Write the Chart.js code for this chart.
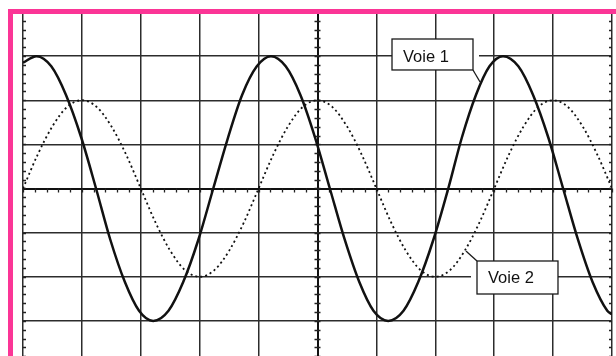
<!DOCTYPE html>
<html>
<head>
<meta charset="utf-8">
<script src="https://cdn.jsdelivr.net/npm/chart.js@4.4.1/dist/chart.umd.min.js"></script>
<style>
  html, body { margin: 0; padding: 0; background: #fff; overflow: hidden; }
  #ecran { position: absolute; left: 0; top: 0; }
  #cadre {
    position: absolute; left: 8px; top: 9px; width: 700px; height: 420px;
    border-top: 5px solid #fb3596; border-left: 5px solid #fb3596;
    pointer-events: none;
  }
</style>
</head>
<body>
<canvas id="ecran" width="616" height="370"></canvas>
<div id="cadre"></div>
<script>
// temps en divisions, tensions en divisions
const voie1T = [0, 0.23, 0.48, 0.73, 0.99, 1.24, 1.48, 1.73, 1.97, 2.21, 2.47, 2.72, 2.98, 3.23,
  3.48, 3.72, 3.97, 4.21, 4.46, 4.71, 4.96, 5.21, 5.46, 5.71, 5.95, 6.2, 6.46, 6.71, 6.97, 7.22,
  7.45, 7.69, 7.92, 8.15, 8.41, 8.66, 8.92, 9.17, 9.42, 9.67, 9.92, 10];
const voie1U = [2.85, 3, 2.77, 2.12, 1.15, 0, -1.15, -2.12, -2.77, -3, -2.77, -2.12, -1.15, 0,
  1.15, 2.12, 2.77, 3, 2.77, 2.12, 1.15, 0, -1.15, -2.12, -2.77, -3, -2.77, -2.12, -1.15, 0,
  1.15, 2.12, 2.77, 3, 2.77, 2.12, 1.15, 0, -1.15, -2.12, -2.77, -2.85];

const voie2T = [0, 0.25, 0.5, 0.75, 1, 1.25, 1.5, 1.75, 2, 2.25, 2.5, 2.75, 3, 3.25, 3.5, 3.75,
  4, 4.25, 4.5, 4.75, 5, 5.25, 5.5, 5.75, 6, 6.25, 6.5, 6.75, 7, 7.25, 7.5, 7.75,
  8, 8.25, 8.5, 8.75, 9, 9.25, 9.5, 9.75, 10];
const voie2U = [0, 0.77, 1.41, 1.85, 2, 1.85, 1.41, 0.77, 0, -0.77, -1.41, -1.85, -2, -1.85, -1.41, -0.77,
  0, 0.77, 1.41, 1.85, 2, 1.85, 1.41, 0.77, 0, -0.77, -1.41, -1.85, -2, -1.85, -1.41, -0.77,
  0, 0.77, 1.41, 1.85, 2, 1.85, 1.41, 0.77, 0];

const nomsVoies = ['Voie 1', 'Voie 2'];

const points = (t, u) => t.map((v, i) => ({ x: v, y: u[i] }));

// petites graduations sur les axes centraux et les bords
const graduations = {
  id: 'graduations',
  beforeDatasetsDraw(chart) {
    const { ctx, scales: { x, y } } = chart;
    const y0 = y.getPixelForValue(0);
    const x0 = x.getPixelForValue(5);
    const xg = x.getPixelForValue(0);
    const xd = x.getPixelForValue(10);
    ctx.save();
    ctx.strokeStyle = '#222';
    ctx.lineWidth = 1.3;
    ctx.beginPath();
    for (let v = 0; v <= 10.001; v += 0.2) {
      const px = Math.round(x.getPixelForValue(v)) + 0.5;
      ctx.moveTo(px, y0);
      ctx.lineTo(px, y0 + 4);
    }
    for (let v = -4; v <= 4.001; v += 0.2) {
      const py = Math.round(y.getPixelForValue(v)) + 0.5;
      ctx.moveTo(x0 - 3, py); ctx.lineTo(x0 + 3, py);
      ctx.moveTo(xg, py); ctx.lineTo(xg + 3, py);
      ctx.moveTo(xd - 3, py); ctx.lineTo(xd, py);
    }
    ctx.stroke();
    ctx.restore();
  }
};

// cadres "Voie 1" / "Voie 2" avec leur trait de rappel
const cadres = [
  { x0: 6.265, x1: 7.64, y0: 3.388, y1: 2.686, masque: [0, 6], trait: [7.64, 2.686, 7.76, 2.414] },
  { x0: 7.708, x1: 9.083, y0: -1.643, y1: -2.391, masque: [6, 0], trait: [7.708, -1.643, 7.52, -1.416] }
];

const etiquettes = {
  id: 'etiquettes',
  afterDatasetsDraw(chart) {
    const { ctx, scales: { x, y } } = chart;
    ctx.save();
    cadres.forEach((c, i) => {
      const l = x.getPixelForValue(c.x0), r = x.getPixelForValue(c.x1);
      const t = y.getPixelForValue(c.y0), b = y.getPixelForValue(c.y1);
      ctx.fillStyle = '#fff';
      ctx.fillRect(l - c.masque[0], t, r - l + c.masque[0] + c.masque[1], b - t);
      ctx.strokeStyle = '#1a1a1a';
      ctx.lineWidth = 1.3;
      ctx.strokeRect(l, t, r - l, b - t);
      ctx.beginPath();
      ctx.moveTo(x.getPixelForValue(c.trait[0]), y.getPixelForValue(c.trait[1]));
      ctx.lineTo(x.getPixelForValue(c.trait[2]), y.getPixelForValue(c.trait[3]));
      ctx.stroke();
      ctx.fillStyle = '#111';
      ctx.font = '16.5px "Liberation Sans", Arial, sans-serif';
      ctx.textBaseline = 'alphabetic';
      ctx.fillText(nomsVoies[i], l + 11, t + 22.5);
    });
    ctx.restore();
  }
};

const grille = (centre) => ({
  color: ctx => ctx.tick && ctx.tick.value === centre ? '#111' : '#2c2c2c',
  lineWidth: ctx => ctx.tick && ctx.tick.value === centre ? 2 : 1.5,
  drawTicks: false
});

new Chart(document.getElementById('ecran'), {
  type: 'line',
  data: {
    datasets: [{
      label: nomsVoies[0],
      data: points(voie1T, voie1U),
      borderColor: '#111',
      borderWidth: 2.5,
      pointRadius: 0,
      cubicInterpolationMode: 'monotone'
    }, {
      label: nomsVoies[1],
      data: points(voie2T, voie2U),
      borderColor: '#111',
      borderWidth: 1.8,
      borderDash: [2, 3],
      pointRadius: 0,
      cubicInterpolationMode: 'monotone'
    }]
  },
  options: {
    responsive: false,
    animation: false,
    events: [],
    layout: { padding: { left: 23, top: 12, right: 4, bottom: 5 } },
    plugins: { legend: { display: false }, tooltip: { enabled: false } },
    scales: {
      x: {
        type: 'linear', min: 0, max: 10,
        ticks: { display: false, stepSize: 1 },
        grid: grille(5),
        border: { display: false }
      },
      y: {
        type: 'linear', min: -4, max: 4,
        ticks: { display: false, stepSize: 1 },
        grid: grille(0),
        border: { display: false }
      }
    }
  },
  plugins: [graduations, etiquettes]
});
</script>
</body>
</html>
